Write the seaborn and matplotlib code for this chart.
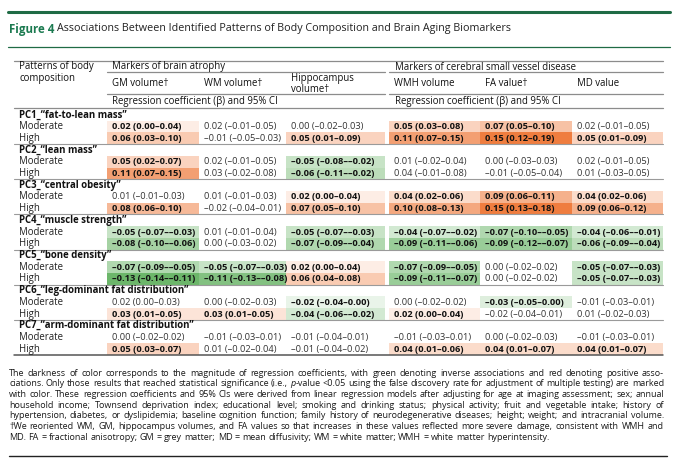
import numpy as np
import pandas as pd
import matplotlib.pyplot as plt
from matplotlib.colors import LinearSegmentedColormap
import seaborn as sns

# ---- data (beta, lower CI, upper CI) per outcome, rows: PC1..PC7 x (Moderate, High)
patterns = ['PC1_\u201cfat-to-lean mass\u201d', 'PC2_\u201clean mass\u201d', 'PC3_\u201ccentral obesity\u201d',
            'PC4_\u201cmuscle strength\u201d', 'PC5_\u201cbone density\u201d',
            'PC6_\u201cleg-dominant fat distribution\u201d', 'PC7_\u201carm-dominant fat distribution\u201d']
levels = ['Moderate', 'High']
outcomes = ['GM volume\u2020', 'WM volume\u2020', 'Hippocampus\nvolume\u2020', 'WMH volume', 'FA value\u2020', 'MD value']

gm = [(0.02, 0.00, 0.04), (0.06, 0.03, 0.10), (0.05, 0.02, 0.07), (0.11, 0.07, 0.15),
      (0.01, -0.01, 0.03), (0.08, 0.06, 0.10), (-0.05, -0.07, -0.03), (-0.08, -0.10, -0.06),
      (-0.07, -0.09, -0.05), (-0.13, -0.14, -0.11), (0.02, 0.00, 0.03), (0.03, 0.01, 0.05),
      (0.00, -0.02, 0.02), (0.05, 0.03, 0.07)]
wm = [(0.02, -0.01, 0.05), (-0.01, -0.05, 0.03), (0.02, -0.01, 0.05), (0.03, -0.02, 0.08),
      (0.01, -0.01, 0.03), (-0.02, -0.04, 0.01), (0.01, -0.01, 0.04), (0.00, -0.03, 0.02),
      (-0.05, -0.07, -0.03), (-0.11, -0.13, -0.08), (0.00, -0.02, 0.03), (0.03, 0.01, 0.05),
      (-0.01, -0.03, 0.01), (0.01, -0.02, 0.04)]
hippo = [(0.00, -0.02, 0.03), (0.05, 0.01, 0.09), (-0.05, -0.08, -0.02), (-0.06, -0.11, -0.02),
         (0.02, 0.00, 0.04), (0.07, 0.05, 0.10), (-0.05, -0.07, -0.03), (-0.07, -0.09, -0.04),
         (0.02, 0.00, 0.04), (0.06, 0.04, 0.08), (-0.02, -0.04, 0.00), (-0.04, -0.06, -0.02),
         (-0.01, -0.04, 0.01), (-0.01, -0.04, 0.02)]
wmh = [(0.05, 0.03, 0.08), (0.11, 0.07, 0.15), (0.01, -0.02, 0.04), (0.04, -0.01, 0.08),
       (0.04, 0.02, 0.06), (0.10, 0.08, 0.13), (-0.04, -0.07, -0.02), (-0.09, -0.11, -0.06),
       (-0.07, -0.09, -0.05), (-0.09, -0.11, -0.07), (0.00, -0.02, 0.02), (0.02, 0.00, 0.04),
       (-0.01, -0.03, 0.01), (0.04, 0.01, 0.06)]
fa = [(0.07, 0.05, 0.10), (0.15, 0.12, 0.19), (0.00, -0.03, 0.03), (-0.01, -0.05, 0.04),
      (0.09, 0.06, 0.11), (0.15, 0.13, 0.18), (-0.07, -0.10, -0.05), (-0.09, -0.12, -0.07),
      (0.00, -0.02, 0.02), (0.00, -0.02, 0.02), (-0.03, -0.05, 0.00), (-0.02, -0.04, 0.01),
      (0.00, -0.02, 0.03), (0.04, 0.01, 0.07)]
md = [(0.02, -0.01, 0.05), (0.05, 0.01, 0.09), (0.02, -0.01, 0.05), (0.01, -0.03, 0.05),
      (0.04, 0.02, 0.06), (0.09, 0.06, 0.12), (-0.04, -0.06, -0.01), (-0.06, -0.09, -0.04),
      (-0.05, -0.07, -0.03), (-0.05, -0.07, -0.03), (-0.01, -0.03, 0.01), (0.01, -0.02, 0.03),
      (-0.01, -0.03, 0.01), (0.04, 0.01, 0.07)]

# significance after FDR (1 = coloured / bold)
gm_sig = [1, 1, 1, 1, 0, 1, 1, 1, 1, 1, 0, 1, 0, 1]
wm_sig = [0, 0, 0, 0, 0, 0, 0, 0, 1, 1, 0, 1, 0, 0]
hippo_sig = [0, 1, 1, 1, 1, 1, 1, 1, 1, 1, 1, 1, 0, 0]
wmh_sig = [1, 1, 0, 0, 1, 1, 1, 1, 1, 1, 0, 1, 0, 1]
fa_sig = [1, 1, 0, 0, 1, 1, 1, 1, 0, 0, 1, 0, 0, 1]
md_sig = [0, 1, 0, 0, 1, 1, 1, 1, 1, 1, 0, 0, 0, 1]

columns = [gm, wm, hippo, wmh, fa, md]
sigs = [gm_sig, wm_sig, hippo_sig, wmh_sig, fa_sig, md_sig]

footnote = [
    "The darkness of color corresponds to the magnitude of regression coefficients, with green denoting inverse associations and red denoting positive asso-",
    "ciations. Only those results that reached statistical significance (i.e., p-value <0.05 using the false discovery rate for adjustment of multiple testing) are marked",
    "with color. These regression coefficients and 95% CIs were derived from linear regression models after adjusting for age at imaging assessment; sex; annual",
    "household income; Townsend deprivation index; educational level; smoking and drinking status; physical activity; fruit and vegetable intake; history of",
    "hypertension, diabetes, or dyslipidemia; baseline cognition function; family history of neurodegenerative diseases; height; weight; and intracranial volume.",
    "\u2020We reoriented WM, GM, hippocampus volumes, and FA values so that increases in these values reflected more severe damage, consistent with WMH and",
    "MD. FA = fractional anisotropy; GM = grey matter; MD = mean diffusivity; WM = white matter; WMH = white matter hyperintensity.",
]
justify_flags = [1, 1, 1, 1, 1, 1, 0]

# ---- layout (pixel coordinates of the 679x465 figure)
W, H = 679, 465
col_edges = [(107, 199), (199, 286), (286, 385), (389, 480), (480, 572), (572, 663)]
TOP, BOT = 109, 355
n_rows = len(patterns) * 3
row_h = (BOT - TOP) / n_rows

sns.set_theme(style='white')
plt.rcParams['font.family'] = ['Open Sans', 'DejaVu Sans']

cmap = LinearSegmentedColormap.from_list('gw_or', ['#4aa547', '#ffffff', '#ee7534'])

fig = plt.figure(figsize=(W / 100, H / 100), dpi=100)

for (x0, x1), col, sig in zip(col_edges, columns, sigs):
    vals = np.full(n_rows, np.nan)
    for k, (b, lo, hi) in enumerate(col):
        if sig[k]:
            vals[(k // 2) * 3 + 1 + k % 2] = b
    hax = fig.add_axes([x0 / W, 1 - BOT / H, (x1 - x0) / W, (BOT - TOP) / H])
    sns.heatmap(pd.DataFrame({'b': vals}), ax=hax, cmap=cmap, vmin=-0.16, vmax=0.16, center=0,
                cbar=False, linewidths=0, xticklabels=False, yticklabels=False)
    hax.axis('off')

ax = fig.add_axes([0, 0, 1, 1])
ax.set_xlim(0, W)
ax.set_ylim(H, 0)
ax.axis('off')
ax.patch.set_alpha(0)

green = '#1f6b45'
ax.plot([8, 670], [12, 12], color=green, lw=2.2)
ax.plot([8, 670], [47, 47], color=green, lw=0.9)

r = fig.canvas.get_renderer()
t = ax.text(9, 29, 'Figure 4', fontsize=8.3, fontweight='bold', color='#1b7a50', va='center')
tw = t.get_window_extent(r).width
ax.text(9 + tw + 3, 29, 'Associations Between Identified Patterns of Body Composition and Brain Aging Biomarkers',
        fontsize=7.75, color='#222222', va='center')

# header
hfs = 6.9
cfs = 6.7
grey = '#8c8c8c'
ax.plot([14, 663], [61, 61], color=grey, lw=0.9)
for y in (72, 94):
    ax.plot([107, 385], [y, y], color=grey, lw=0.9)
    ax.plot([389, 663], [y, y], color=grey, lw=0.9)
ax.plot([14, 663], [108, 108], color=grey, lw=0.9)

ax.text(19, 67, 'Patterns of body', fontsize=hfs, va='center', color='#111111')
ax.text(19, 78, 'composition', fontsize=hfs, va='center', color='#111111')
ax.text(112, 67, 'Markers of brain atrophy', fontsize=hfs, va='center', color='#111111')
ax.text(395, 67, 'Markers of cerebral small vessel disease', fontsize=hfs, va='center', color='#111111')
for (x0, x1), name in zip(col_edges, outcomes):
    if '\n' in name:
        a, b = name.split('\n')
        ax.text(x0 + 5, 78.5, a, fontsize=hfs, va='center', color='#111111')
        ax.text(x0 + 5, 89, b, fontsize=hfs, va='center', color='#111111')
    else:
        ax.text(x0 + 5, 84, name, fontsize=hfs, va='center', color='#111111')
ax.text(112, 101.5, 'Regression coefficient (\u03b2) and 95% CI', fontsize=hfs, va='center', color='#111111')
ax.text(395, 101.5, 'Regression coefficient (\u03b2) and 95% CI', fontsize=hfs, va='center', color='#111111')


def fmt(v):
    return f'{v:.2f}'.replace('-', '\u2013')


# body
for p, name in enumerate(patterns):
    yc = TOP + (p * 3 + 0.5) * row_h
    ax.text(19, yc, name, fontsize=hfs, fontweight='bold', va='center', color='#111111')
    for j, lev in enumerate(levels):
        yr = TOP + (p * 3 + 1 + j + 0.5) * row_h
        ax.text(19, yr, lev, fontsize=hfs, va='center', color='#222222')
        for (x0, x1), col, sig in zip(col_edges, columns, sigs):
            b, lo, hi = col[p * 2 + j]
            s = f'{fmt(b)} ({fmt(lo)}\u2013{fmt(hi)})'
            if sig[p * 2 + j]:
                ax.text(x0 + 5, yr, s, fontsize=cfs, fontweight='bold', va='center', color='#111111')
            else:
                ax.text(x0 + 5, yr, s, fontsize=cfs, va='center', color='#333333')
    ysep = TOP + (p * 3 + 3) * row_h
    if p < len(patterns) - 1:
        ax.plot([14, 663], [ysep, ysep], color='#9a9a9a', lw=0.8)
    else:
        ax.plot([14, 663], [ysep, ysep], color='#555555', lw=1.1)

# footnote, justified
FX0, FX1, FFS = 9, 664, 6.45


def put_line(y, line, justify):
    pieces = []
    for w in line.split(' '):
        if w.startswith('p-value'):
            segs = [('p', 'italic'), (w[1:], 'normal')]
        else:
            segs = [(w, 'normal')]
        pieces.append([ax.text(0, y, s, fontsize=FFS, style=st, va='center', color='#1a1a1a')
                       for s, st in segs])
    widths = [[tt.get_window_extent(r).width for tt in segs] for segs in pieces]
    total = sum(sum(ws) for ws in widths)
    gap = (FX1 - FX0 - total) / (len(pieces) - 1) if justify else FFS * 0.36
    x = FX0
    for segs, ws in zip(pieces, widths):
        for tt, w in zip(segs, ws):
            tt.set_x(x)
            x += w
        x += gap


for i, (line, jf) in enumerate(zip(footnote, justify_flags)):
    put_line(373 + i * 10.7, line, jf)

ax.plot([9, 667], [456, 456], color='#222222', lw=1.0)

fig.savefig('out.png', dpi=100)
